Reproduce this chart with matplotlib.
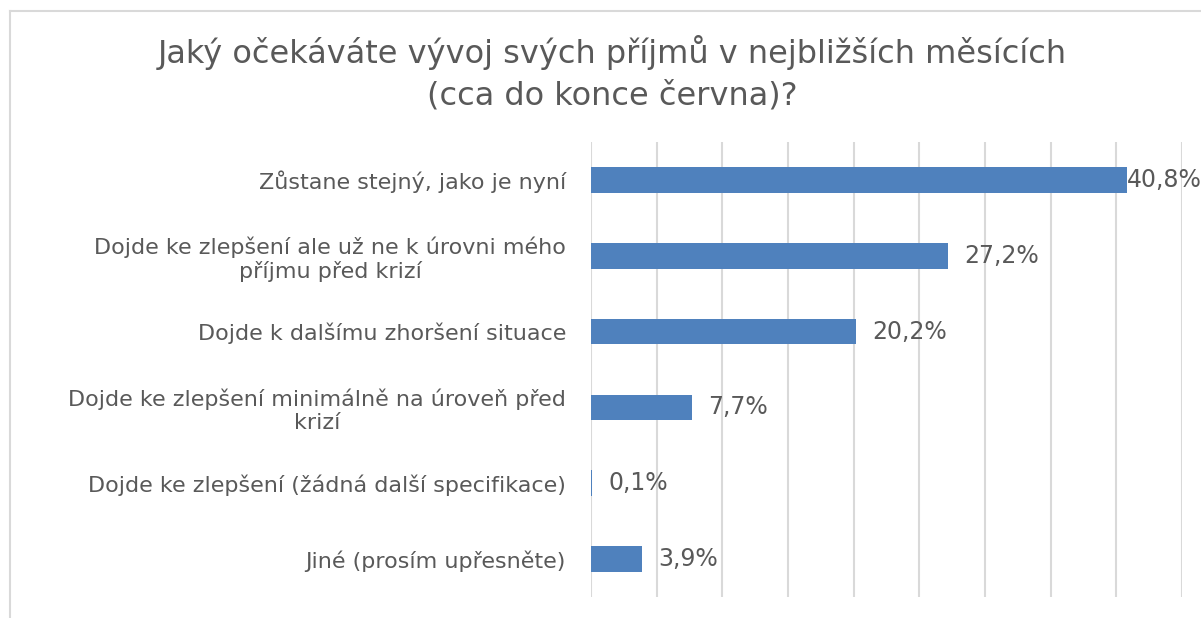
import matplotlib.pyplot as plt
from matplotlib.lines import Line2D

# Survey answers, top to bottom
categories = [
    "Zůstane stejný, jako je nyní",
    "Dojde ke zlepšení ale už ne k úrovni mého\npříjmu před krizí",
    "Dojde k dalšímu zhoršení situace",
    "Dojde ke zlepšení minimálně na úroveň před\nkrizí",
    "Dojde ke zlepšení (žádná další specifikace)",
    "Jiné (prosím upřesněte)",
]
values = [40.8, 27.2, 20.2, 7.7, 0.1, 3.9]
title = "Jaký očekáváte vývoj svých příjmů v nejbližších měsících\n(cca do konce června)?"

text_color = "#595959"
bar_color = "#4F81BD"
grid_color = "#D9D9D9"

fig = plt.figure(figsize=(12.01, 6.18), dpi=100)
ax = fig.add_axes([591 / 1201, 1 - 597 / 618, 591 / 1201, 455 / 618])

y = list(range(len(categories)))
ax.barh(y, values, height=0.34, color=bar_color)
ax.set_ylim(len(categories) - 0.5, -0.5)
ax.set_xlim(0, 45)
ax.set_xticks(range(0, 50, 5))
ax.xaxis.grid(True, color=grid_color, linewidth=1.5)
ax.set_axisbelow(True)
ax.tick_params(axis="x", which="both", bottom=False, labelbottom=False)
ax.tick_params(axis="y", length=0, pad=18)
ax.set_yticks(y)
ax.set_yticklabels(categories, fontsize=16, color=text_color, linespacing=1.2)
for lbl in ax.get_yticklabels():
    lbl.set_multialignment("center")
for s in ax.spines.values():
    s.set_visible(False)

# value labels
for i, v in enumerate(values):
    off = 0 if v == max(values) else 16
    ax.annotate(f"{v:.1f}%".replace(".", ","), (v, i), xytext=(off, 0),
                textcoords="offset pixels", va="center", ha="left",
                fontsize=17, color=text_color, annotation_clip=False)

fig.text(612 / 1201, 1 - 73 / 618, title, ha="center", va="center",
         fontsize=23, color=text_color, linespacing=1.45)

# chart border (cut off at right/bottom)
fig.add_artist(Line2D([10 / 1201, 10 / 1201], [0, 1 - 11 / 618],
                      transform=fig.transFigure, color=grid_color, lw=1.5))
fig.add_artist(Line2D([10 / 1201, 1], [1 - 11 / 618, 1 - 11 / 618],
                      transform=fig.transFigure, color=grid_color, lw=1.5))

fig.savefig("out.png", dpi=100)
